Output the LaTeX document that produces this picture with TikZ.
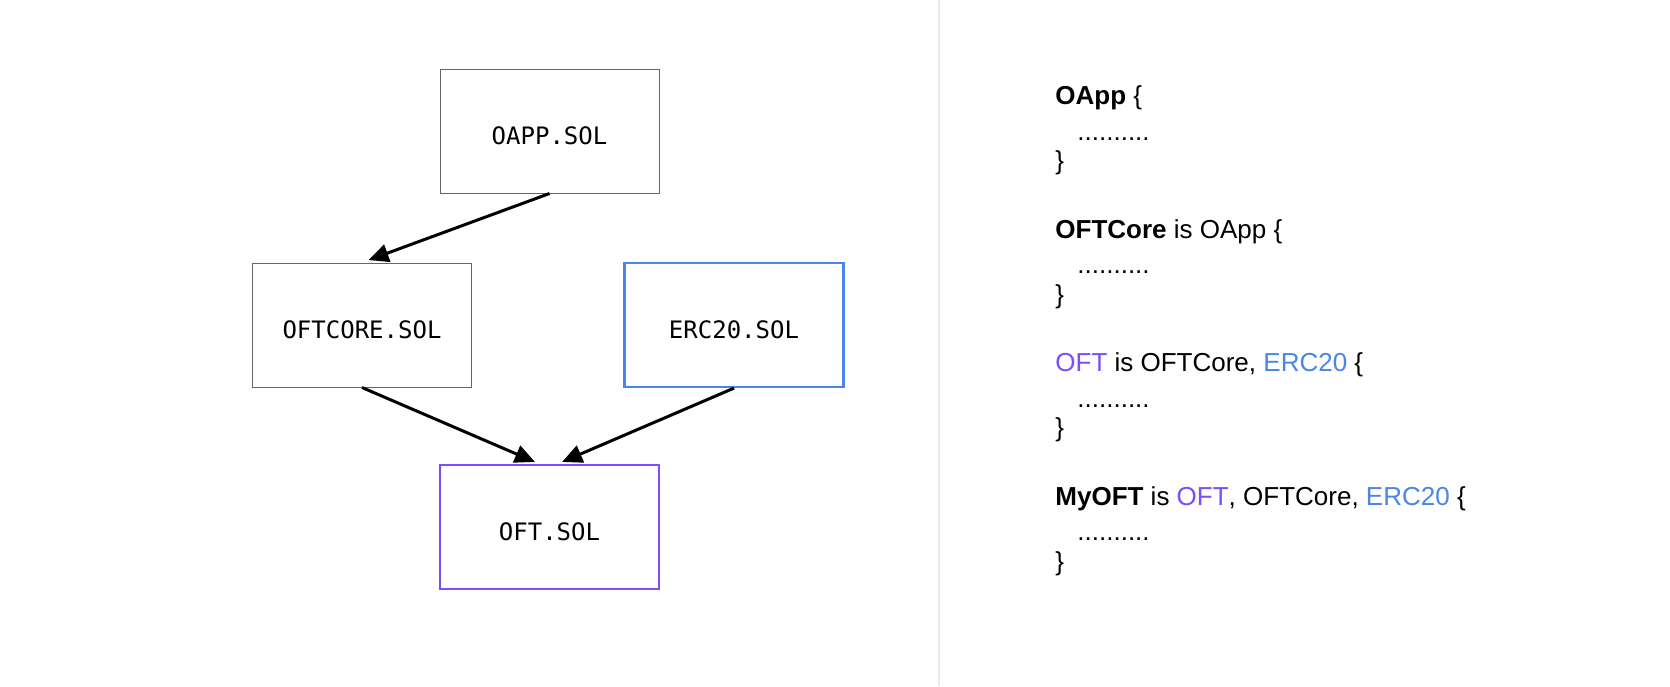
\documentclass[tikz,border=0pt]{standalone}
\usepackage{fontspec}
\setmainfont{Liberation Sans}
\newfontfamily\solfont{DejaVu Sans Mono}
\usetikzlibrary{arrows.meta,positioning}
\definecolor{ercblue}{RGB}{74,134,232}
\definecolor{oftpurple}{RGB}{124,77,255}
\definecolor{boxgray}{RGB}{102,102,102}
\definecolor{divgray}{RGB}{235,235,235}

\tikzset{
  solbox/.style={draw=boxgray, line width=0.5pt, minimum width=109.5pt,
                 minimum height=62pt, inner sep=0pt,
                 text height=13.5pt, text depth=0pt,
                 font=\solfont\fontsize{12}{14}\selectfont},
  inherit/.style={-{Triangle[length=10pt,width=9pt]}, line width=1.5pt},
  codeline/.style={anchor=base west, inner sep=0pt,
                   font=\fontsize{13}{16}\selectfont},
}

\begin{document}
\begin{tikzpicture}[x=0.5pt,y=-0.5pt]
\useasboundingbox[fill=white] (0,0) rectangle (1670,686);
\draw[divgray, line width=1pt] (939,0) -- (939,686);

% contract files
\node[solbox] (oapp) at (549.5,131) {OAPP.SOL};
\node[solbox] (oftcore) at (362,325) {OFTCORE.SOL};
\node[solbox, draw=ercblue, line width=1.1pt] (erc) at (734,325) {ERC20.SOL};
\node[solbox, draw=oftpurple, line width=1.1pt] (oft) at (549.5,527) {OFT.SOL};

\draw[inherit, shorten >=3.5pt] (oapp.south) -- (oftcore.north);
\draw[inherit, shorten >=2.5pt] (oftcore.south) -- ([xshift=-5pt]oft.north);
\draw[inherit, shorten >=2.5pt] (erc.south) -- ([xshift=4pt]oft.north);

% code on the right
\node[codeline] (l1) at (1055,104.5) {\textbf{OApp} \{};
\node[codeline] (d1) at (1077,140) {..........};
\node[codeline] (b1) at (1055,169.5) {\}};

\node[codeline] (l2) at (1055,238) {\textbf{OFTCore} is OApp \{};
\node[codeline] (d2) at (1077,273.5) {..........};
\node[codeline] (b2) at (1055,303) {\}};

\node[codeline] (l3) at (1055,371.5) {\textcolor{oftpurple}{OFT} is OFTCore, \textcolor{ercblue}{ERC20} \{};
\node[codeline] (d3) at (1077,407) {..........};
\node[codeline] (b3) at (1055,436.5) {\}};

\node[codeline] (l4) at (1055,505) {\textbf{MyOFT} is \textcolor{oftpurple}{OFT}, OFTCore, \textcolor{ercblue}{ERC20} \{};
\node[codeline] (d4) at (1077,540.5) {..........};
\node[codeline] (b4) at (1055,570) {\}};
\end{tikzpicture}
\end{document}
